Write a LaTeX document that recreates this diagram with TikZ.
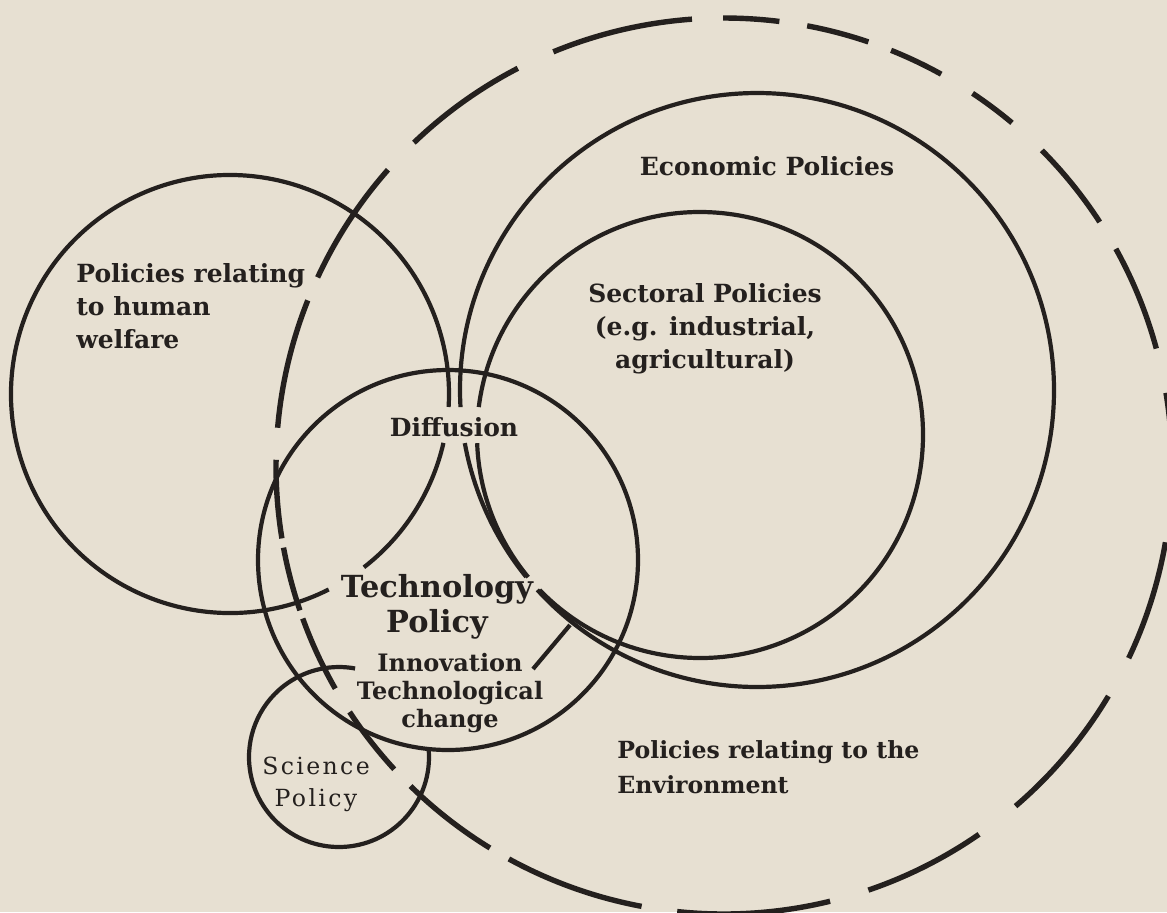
\documentclass[tikz,border=0pt]{standalone}
\usepackage{fontspec}
\setmainfont{DejaVu Serif}
\newfontfamily\spacedserif{DejaVu Serif}[LetterSpace=10]
\definecolor{paper}{RGB}{231,224,210}
\definecolor{ink}{RGB}{36,32,30}
% one arc of a ring: centre, radius, start angle, end angle (y axis points down)
\newcommand{\ringarc}[4]{\draw[ring] (#1) ++(#3:#2) arc[start angle=#3, end angle=#4, radius=#2];}
\begin{document}
\begin{tikzpicture}[x=0.5pt, y=-0.5pt,
  ring/.style={draw=ink, line width=2.1pt},
  envdash/.style={draw=ink, line width=2.7pt},
  lbl/.style={text=ink, inner sep=0pt, font=\bfseries\fontsize{12.5}{16.5}\selectfont},
  techlbl/.style={text=ink, inner sep=0pt, align=center, font=\bfseries\fontsize{15.2}{17.5}\selectfont},
  innovlbl/.style={text=ink, inner sep=0pt, align=center, font=\bfseries\fontsize{12}{14}\selectfont},
  scilbl/.style={text=ink, inner sep=0pt, align=center, font=\spacedserif\fontsize{11.8}{16}\selectfont},
  envlbl/.style={text=ink, inner sep=0pt, align=left, font=\bfseries\fontsize{11.8}{17.5}\selectfont}]

\useasboundingbox (0,0) rectangle (1167,912);
\fill[paper] (0,0) rectangle (1167,912);

% ring centres
\coordinate (envC)  at (724,466);
\coordinate (econC) at (757,390);
\coordinate (sectC) at (700,435);
\coordinate (humC)  at (230,394);
\coordinate (techC) at (448,560);
\coordinate (sciC)  at (339,757);

% environment: broken outer ring
\foreach \a/\b in {269.9/277.1, 280.7/288.8, 291.9/299.0, 303.7/310.0, 315.2/327.0,
                   331.0/344.8, 350.6/364.0, 9.8/25.4, 30.9/49.4, 55.3/71.2,
                   76.3/96.0, 100.6/118.7, 121.5/134.4, 137.4/146.7, 150.2/160.1,
                   161.2/169.5, 170.7/180.8, 184.9/201.7, 204.9/221.4, 226.2/242.6,
                   247.6/265.9}
  {\draw[envdash] (envC) ++(\a:448) arc[start angle=\a, end angle=\b, radius=448];}

% economic policies
\ringarc{econC}{297}{141.0}{169.7}
\ringarc{econC}{297}{176.7}{497.7}
% sectoral policies
\ringarc{sectC}{223}{140.4}{177.9}
\ringarc{sectC}{223}{187.2}{496.0}
% human welfare
\ringarc{humC}{219}{12.9}{52.3}
\ringarc{humC}{219}{63.2}{363.4}
% technology policy
\draw[ring] (techC) circle[radius=190];
% science policy
\ringarc{sciC}{90}{-4.4}{280.3}

% labels
\node[lbl] (econ) at (767,166) {Economic Policies};
\node[lbl, align=center] (sect) at (705,329) {Sectoral Policies\\(e.g. industrial,\\agricultural)};
\node[lbl, align=left, anchor=west] (hum) at (76,306) {Policies relating\\to human\\welfare};
\node[lbl] (diff) at (454,427) {Diffusion};
\node[techlbl] (tech) at (437,607) {Technology\\Policy};
\node[innovlbl] (innov) at (450,693) {Innovation\\Technological\\change};
\node[scilbl] (sci) at (316,784) {Science\\Policy};
\node[envlbl, anchor=west] (env) at (617,767) {Policies relating to the\\Environment};

% tie from the innovation label to the sectoral ring
\coordinate (innovTip) at (533,669);
\coordinate (sectHit) at (570,625);
\draw[ring] (innovTip) -- (sectHit);
\end{tikzpicture}
\end{document}
